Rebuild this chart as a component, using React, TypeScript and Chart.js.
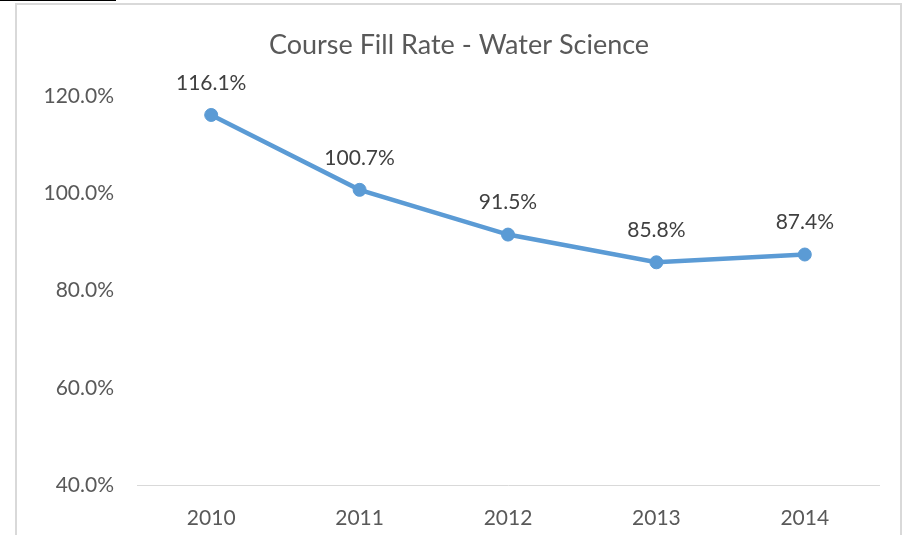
import React, { useEffect, useRef } from "react";
import { Chart, registerables } from "chart.js";

Chart.register(...registerables);

const categories = ["2010", "2011", "2012", "2013", "2014"];
const fillRate = [116.1, 100.7, 91.5, 85.8, 87.4];
const yTicks = [40, 60, 80, 100, 120];
const titleText = "Course Fill Rate - Water Science";

const FONT = "Lato, Carlito, Calibri, sans-serif";
const TEXT = "#595959";
const LINE = "#5B9BD5";

const framePlugin = {
  id: "frame",
  beforeDraw(chart: any) {
    const ctx = chart.ctx;
    ctx.save();
    ctx.fillStyle = "#ffffff";
    ctx.fillRect(0, 0, chart.width, chart.height);
    ctx.strokeStyle = "#D9D9D9";
    ctx.lineWidth = 2;
    ctx.strokeRect(16, 4, 885, 600);
    ctx.fillStyle = "#000000";
    ctx.fillRect(0, 0, 116, 1);
    ctx.font = `27px ${FONT}`;
    ctx.fillStyle = TEXT;
    ctx.textAlign = "center";
    ctx.textBaseline = "middle";
    ctx.fillText(titleText, 459, 45);
    ctx.restore();
  },
};

const labelPlugin = {
  id: "pointLabels",
  afterDatasetsDraw(chart: any) {
    const ctx = chart.ctx;
    const meta = chart.getDatasetMeta(0);
    ctx.save();
    ctx.font = `21px ${FONT}`;
    ctx.fillStyle = "#404040";
    ctx.textAlign = "center";
    ctx.textBaseline = "middle";
    meta.data.forEach((pt: any, i: number) => {
      const v = chart.data.datasets[0].data[i];
      ctx.fillText(v.toFixed(1) + "%", pt.x, pt.y - 32);
    });
    ctx.restore();
  },
};

export default function App() {
  const ref = useRef<HTMLCanvasElement>(null);
  useEffect(() => {
    if (!ref.current) return;
    const chart = new Chart(ref.current, {
      type: "line",
      data: {
        labels: categories,
        datasets: [
          {
            data: fillRate,
            borderColor: LINE,
            backgroundColor: LINE,
            borderWidth: 4.5,
            pointRadius: 6.5,
            pointBorderWidth: 1,
            pointBackgroundColor: LINE,
            pointBorderColor: LINE,
            tension: 0,
          },
        ],
      },
      options: {
        responsive: false,
        animation: false,
        layout: { padding: { left: 16, right: 24, top: 96, bottom: 0 } },
        plugins: {
          legend: { display: false },
          tooltip: { enabled: false },
          title: { display: false },
        },
        scales: {
          x: {
            offset: true,
            grid: { display: true, drawOnChartArea: false, drawTicks: false },
            border: { display: true, color: "#D9D9D9", width: 1 },
            ticks: { color: TEXT, font: { family: FONT, size: 21 }, padding: 21 },
            afterFit(scale: any) {
              scale.height = 50;
            },
          },
          y: {
            min: 40,
            max: 120,
            grid: { display: false, drawTicks: false },
            border: { display: false },
            afterBuildTicks(scale: any) {
              scale.ticks = yTicks.map((v) => ({ value: v }));
            },
            ticks: {
              color: TEXT,
              font: { family: FONT, size: 21 },
              padding: 23,
              callback: (v: any) => Number(v).toFixed(1) + "%",
            },
            afterFit(scale: any) {
              scale.width = 121;
            },
          },
        },
      },
      plugins: [framePlugin, labelPlugin],
    });
    return () => chart.destroy();
  }, []);
  return (
    <div style={{ position: "fixed", left: 0, top: 0, width: 903, height: 535 }}>
      <canvas ref={ref} width={903} height={535} style={{ display: "block" }} />
    </div>
  );
}
